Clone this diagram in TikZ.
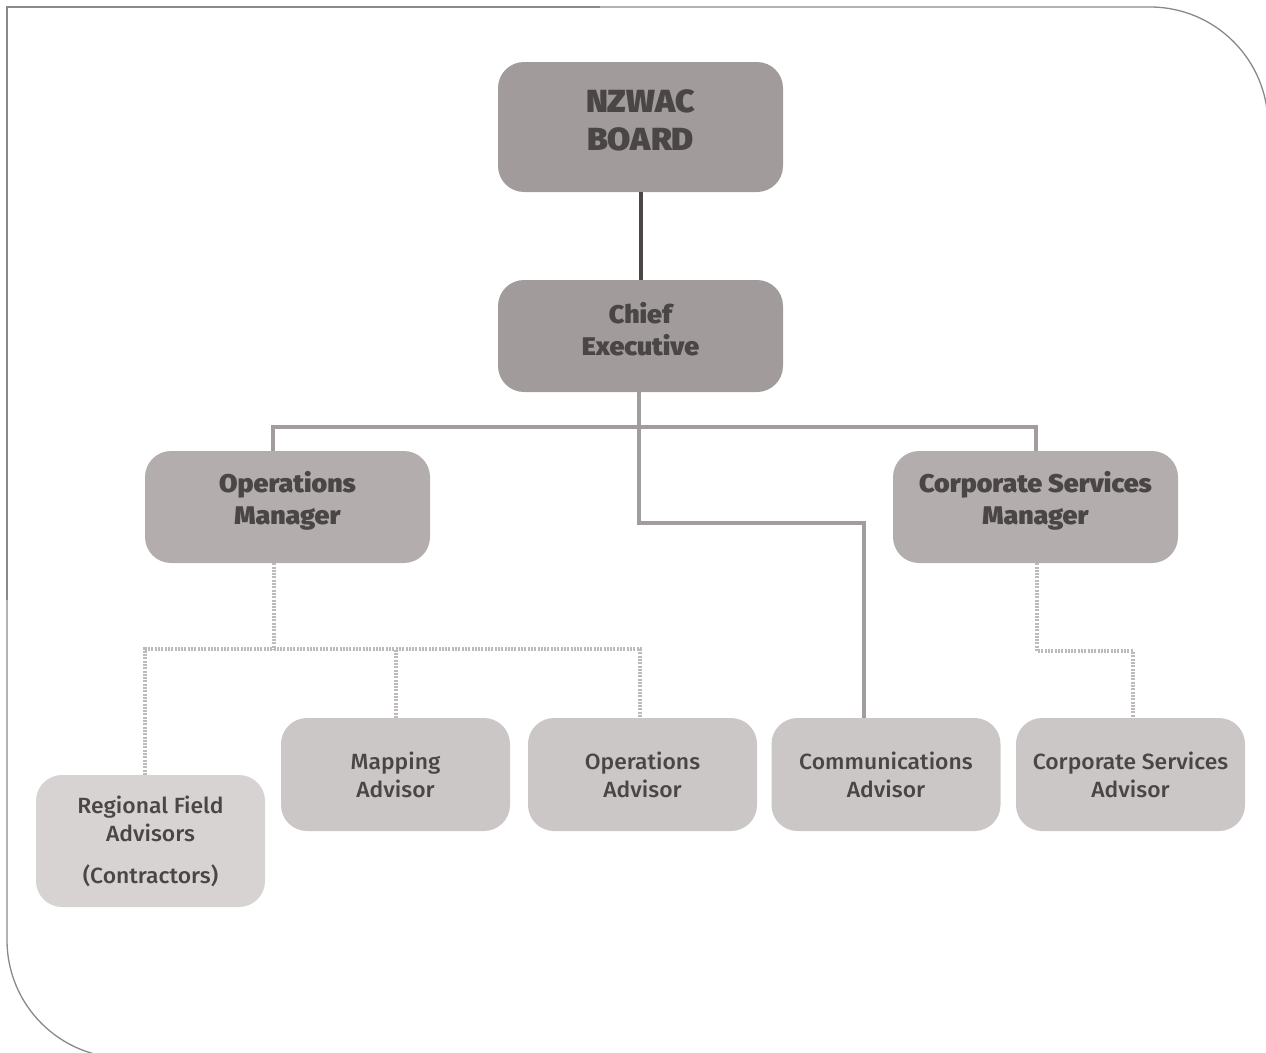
\documentclass[tikz,border=0pt]{standalone}
\usepackage{fontspec}
\setmainfont{Fira Sans}
\newfontfamily\heavyfont{Fira Sans}[UprightFont=* Black, FakeStretch=1.05]
\newfontfamily\medfont{Fira Sans}[UprightFont=* Medium, FakeStretch=1.04]
\usetikzlibrary{calc}
\definecolor{txt}{HTML}{4B4646}
\definecolor{topfill}{HTML}{A19C9B}
\definecolor{mgrfill}{HTML}{B3AEAD}
\definecolor{advfill}{HTML}{CBC7C6}
\definecolor{regfill}{HTML}{D6D3D2}
\definecolor{linegrey}{HTML}{A29D9C}
\definecolor{dotgrey}{HTML}{BEBAB9}
\definecolor{framegrey}{HTML}{8A8888}
\newcommand{\liftA}{\rule[-14pt]{0pt}{14pt}}
\newcommand{\liftB}{\rule[-19pt]{0pt}{19pt}}
\tikzset{
  box/.style={rectangle, rounded corners=26pt, inner sep=0pt, align=center, text=txt},
  topbox/.style={box, fill=topfill, minimum width=285pt},
  mgrbox/.style={box, fill=mgrfill, minimum width=285pt, minimum height=112pt},
  advbox/.style={box, fill=advfill, minimum width=229pt, minimum height=113pt},
  bigfont/.style={font=\heavyfont\fontsize{32}{38}\selectfont},
  midfont/.style={font=\heavyfont\fontsize{25.5}{32}\selectfont},
  smallfont/.style={font=\medfont\fontsize{22}{28}\selectfont},
  solidline/.style={draw=linegrey, line width=4pt},
  darkline/.style={draw=txt, line width=4pt},
  dotline/.style={draw=dotgrey, line width=4pt, dash pattern=on 2pt off 1.3pt},
  framel/.style={draw=framegrey, line width=1.3pt}
}
\begin{document}
\begin{tikzpicture}[x=1pt,y=-1pt]
\useasboundingbox (0,0) rectangle (1266,1052);
\begin{scope}
\clip (0,0) rectangle (1266,1052);
\draw[framel] (7,600) -- (7,7) -- (600,7);
\draw[framel, rounded corners=118pt] (600,7) -- (1268,7) -- (1268,600);
\draw[framel, rounded corners=118pt] (7,600) -- (7,1058) -- (600,1058);
\end{scope}

\node[topbox, minimum height=130pt, bigfont] (board) at (640.5,127) {NZWAC\\BOARD\liftA};
\node[topbox, minimum height=112pt, midfont] (chief) at (640.5,336) {Chief\\Executive\liftA};
\node[mgrbox, midfont] (opsmgr) at (287.5,507) {Operations\\Manager\liftB};
\node[mgrbox, midfont] (corpmgr) at (1035.5,507) {Corporate Services\\Manager\liftB};

\node[advbox, fill=regfill, minimum height=132pt, smallfont] (regional) at (150.5,841) {Regional Field\\Advisors\\[14pt](Contractors)};
\node[advbox, smallfont] (mapping) at (395.5,774.5) {Mapping\\Advisor};
\node[advbox, smallfont] (opsadv) at (642.5,774.5) {Operations\\Advisor};
\node[advbox, smallfont] (comms) at (886,774.5) {Communications\\Advisor};
\node[advbox, smallfont] (corpadv) at (1130.5,774.5) {Corporate Services\\Advisor};

% solid connectors
\draw[darkline] (board.south) -- (chief.north);
\draw[solidline] ([xshift=-15pt]opsmgr.north) -- ++(0,-24) coordinate (hbar) -| (corpmgr.north);
\draw[solidline] ([xshift=-1.5pt]chief.south) -- ([xshift=-1.5pt]chief.south |- hbar);
\draw[solidline] ([xshift=-1.5pt]chief.south) |- ([xshift=-22pt]comms.north |- 0,523) -- ([xshift=-22pt]comms.north);

% dotted connectors
\draw[dotline] ([xshift=-14pt]opsmgr.south) -- ++(0,86) coordinate (dj);
\draw[dotline] ([xshift=-5.5pt]regional.north) |- ([xshift=-2.5pt]opsadv.north |- dj) -- ([xshift=-2.5pt]opsadv.north);
\draw[dotline] (mapping.north) -- (mapping.north |- dj);
\draw[dotline] ([xshift=1.5pt]corpmgr.south) -- ++(0,88) -| ([xshift=2.5pt]corpadv.north);
\end{tikzpicture}
\end{document}
